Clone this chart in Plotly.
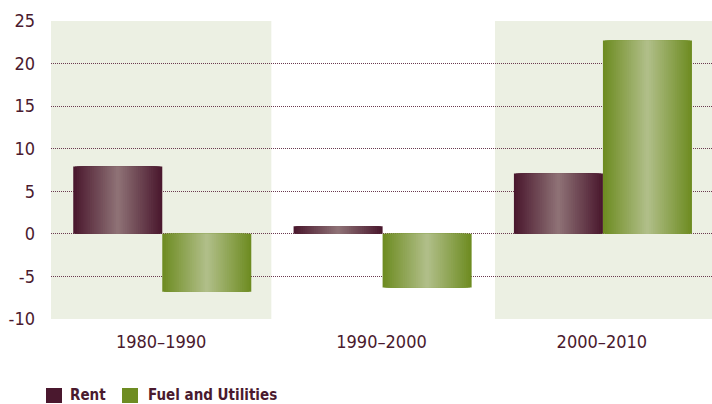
import plotly.graph_objects as go

# ---- data ----
categories = ["1980–1990", "1990–2000", "2000–2010"]
rent = [7.9, 0.9, 7.1]
fuel = [-6.8, -6.3, 22.7]
series_names = ["Rent", "Fuel and Utilities"]
y_ticks = [-10, -5, 0, 5, 10, 15, 20, 25]

# ---- style ----
FONT = "Liberation Sans Narrow, DejaVu Sans Condensed, Arial Narrow, sans-serif"
TEXT = "#4a1a2e"
RENT_EDGE, RENT_MID = (74, 24, 46), (142, 113, 117)
FUEL_EDGE, FUEL_MID = (110, 140, 34), (176, 190, 136)
BAND = "#ecf0e3"
BAR_W = 0.404
N = 24


def lerp(a, b, t):
    return "rgb(%d,%d,%d)" % tuple(round(a[k] + (b[k] - a[k]) * t) for k in range(3))


fig = go.Figure()

for vals, edge, mid, center in [(rent, RENT_EDGE, RENT_MID, -BAR_W / 2),
                                 (fuel, FUEL_EDGE, FUEL_MID, BAR_W / 2)]:
    for i in range(N):
        w = BAR_W * (1 - i / N)
        t = i / (N - 1)
        fig.add_trace(go.Bar(
            x=categories, y=vals, width=w, offset=center - w / 2 + 0.005,
            marker=dict(color=lerp(edge, mid, t), line=dict(width=0)),
            showlegend=False, hoverinfo="skip" if i else "x+y",
        ))

# background bands for 1st and 3rd category
for x0, x1 in ((-0.5, 0.5), (1.515, 2.5)):
    fig.add_shape(type="rect", xref="x", yref="y", x0=x0, x1=x1,
                  y0=y_ticks[0], y1=y_ticks[-1], fillcolor=BAND,
                  line=dict(width=0), layer="below")

# custom legend
legend_items = [(series_names[0], "rgb(74,24,46)", 46, 68),
                (series_names[1], "rgb(110,140,34)", 122, 146)]
L, T, PW, PH = 51, 21, 661, 298
for name, col, sx, tx in legend_items:
    fig.add_shape(type="rect", xref="paper", yref="paper",
                  x0=(sx - L) / PW, x1=(sx + 16 - L) / PW,
                  y0=(T + PH - 403) / PH, y1=(T + PH - 388) / PH,
                  fillcolor=col, line=dict(width=0))
    fig.add_annotation(text="<b>%s</b>" % name, xref="paper", yref="paper",
                       x=(tx - L) / PW, y=(T + PH - 395) / PH,
                       xanchor="left", yanchor="middle", showarrow=False,
                       font=dict(family=FONT, size=15, color=TEXT))

fig.update_layout(
    width=712, height=404,
    margin=dict(l=51, r=0, t=21, b=85),
    barmode="overlay",
    plot_bgcolor="white", paper_bgcolor="white",
    font=dict(family=FONT, color=TEXT, size=18),
    showlegend=False,
    xaxis=dict(type="category", showgrid=False, zeroline=False, showline=False,
               ticks="", tickfont=dict(size=18, color=TEXT), ticklabelstandoff=10,
               range=[-0.5, 2.5], fixedrange=True),
    yaxis=dict(range=[-10, 25], tickvals=y_ticks, ticktext=[str(v) for v in y_ticks],
               showgrid=True, gridcolor="#6b3a50", griddash="1px,1px", gridwidth=1,
               zeroline=False, showline=False, ticks="",
               tickfont=dict(size=18, color=TEXT), ticklabelstandoff=15,
               fixedrange=True, automargin=False),
)

fig.write_html("out.html", config={"displayModeBar": False},
               post_script="document.body.style.margin='0';")
